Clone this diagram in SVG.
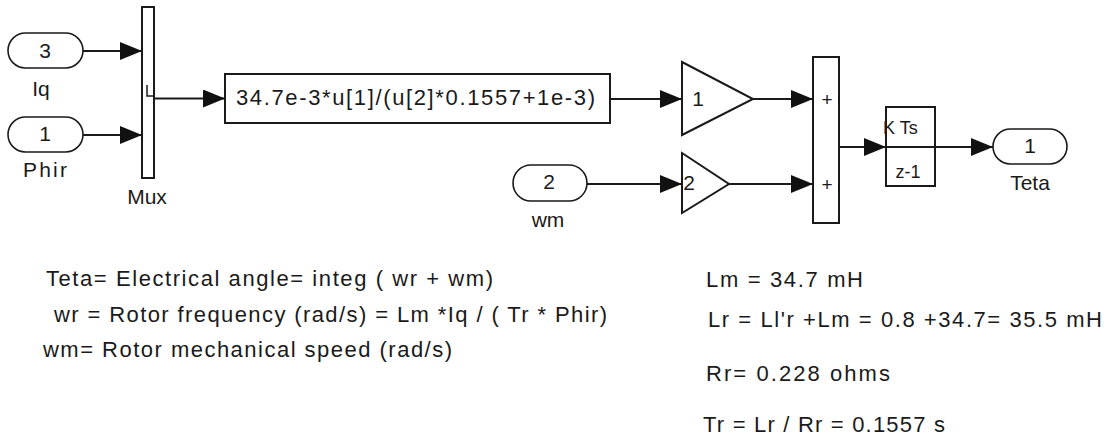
<svg xmlns="http://www.w3.org/2000/svg" width="1110" height="448" viewBox="0 0 1110 448">
<style>
text{font-family:"Liberation Sans",Arial,sans-serif;fill:#1a1a1a;}
.t{font-size:22px;}
.lbl{font-size:21px;text-anchor:middle;}
.num{font-size:21px;text-anchor:middle;}
.blk{fill:#fff;stroke:#1a1a1a;stroke-width:2;}
.port{fill:#fff;stroke:#1a1a1a;stroke-width:1.6;}
.wire{fill:none;stroke:#1a1a1a;stroke-width:2;marker-end:url(#arr);}
</style>
<defs>
<marker id="arr" markerUnits="userSpaceOnUse" markerWidth="22" markerHeight="18" refX="22" refY="9" orient="auto">
<path d="M0,0 L22,9 L0,18 Z" fill="#111"/>
</marker>
</defs>
<rect width="1110" height="448" fill="#fff"/>

<g id="connectors">
<line class="wire" x1="83" y1="51" x2="142" y2="51"/>
<line class="wire" x1="83" y1="135" x2="142" y2="135"/>
<line class="wire" x1="154" y1="98.5" x2="225" y2="98.5"/>
<line class="wire" x1="610" y1="99" x2="682" y2="99"/>
<line class="wire" x1="753" y1="99" x2="813" y2="99"/>
<line class="wire" x1="587" y1="184" x2="682" y2="184"/>
<line class="wire" x1="729" y1="184" x2="813" y2="184"/>
<line class="wire" x1="839" y1="147" x2="886" y2="147"/>
<line class="wire" x1="935" y1="147" x2="993" y2="147"/>
</g>

<g id="inport3">
<rect class="port" x="8" y="33" width="75" height="35" rx="17.5"/>
<text class="num" x="45" y="58">3</text>
<text class="lbl" x="41" y="96">Iq</text>
</g>

<g id="inport1">
<rect class="port" x="8" y="117" width="75" height="35" rx="17.5"/>
<text class="num" x="45" y="141">1</text>
<text class="lbl" x="45" y="177" textLength="44" lengthAdjust="spacing">Phir</text>
</g>

<g id="mux">
<rect class="blk" x="142" y="7" width="12" height="171"/>
<path d="M147,85 V96 H154" fill="none" stroke="#1a1a1a" stroke-width="1.5"/>
<text class="lbl" x="147" y="204">Mux</text>
</g>

<g id="fcn">
<rect class="blk" x="225" y="74" width="385" height="49"/>
<text x="236" y="105" font-size="22" textLength="359" lengthAdjust="spacing">34.7e-3*u[1]/(u[2]*0.1557+1e-3)</text>
</g>

<g id="gain1">
<polygon class="blk" points="682,62 753,99 682,135" stroke-width="1.6"/>
<text class="num" x="698" y="106">1</text>
</g>

<g id="inport2">
<rect class="port" x="513" y="165" width="74" height="36" rx="18"/>
<text class="num" x="549" y="189">2</text>
<text class="lbl" x="548" y="227">wm</text>
</g>

<g id="gain2">
<polygon class="blk" points="682,153 729,184 682,213" stroke-width="1.6"/>
<text class="num" x="689" y="190">2</text>
</g>

<g id="sum">
<rect class="blk" x="813" y="57" width="26" height="166"/>
<text x="827" y="106" font-size="19" text-anchor="middle">+</text>
<text x="827" y="191" font-size="19" text-anchor="middle">+</text>
</g>

<g id="integrator">
<rect class="blk" x="886" y="107" width="49" height="79"/>
<line x1="886" y1="147" x2="935" y2="147" stroke="#1a1a1a" stroke-width="2"/>
<text x="883" y="134" font-size="18">K Ts</text>
<text x="908" y="178" font-size="18" text-anchor="middle">z-1</text>
</g>

<g id="outport1">
<rect class="port" x="993" y="129" width="74" height="35" rx="17.5"/>
<text class="num" x="1030" y="153">1</text>
<text class="lbl" x="1030" y="190">Teta</text>
</g>

<g id="notes-left">
<text class="t" x="46" y="286" textLength="447" lengthAdjust="spacing">Teta= Electrical angle= integ ( wr + wm)</text>
<text class="t" x="54" y="322" textLength="553" lengthAdjust="spacing">wr = Rotor frequency (rad/s) = Lm *Iq / ( Tr  * Phir)</text>
<text class="t" x="43" y="357" textLength="409" lengthAdjust="spacing">wm= Rotor mechanical speed (rad/s)</text>
</g>

<g id="notes-right">
<text class="t" x="706" y="287" textLength="157" lengthAdjust="spacing">Lm = 34.7 mH</text>
<text class="t" x="708" y="327" textLength="394" lengthAdjust="spacing">Lr = Ll'r +Lm = 0.8 +34.7= 35.5 mH</text>
<text class="t" x="706" y="381" textLength="184" lengthAdjust="spacing">Rr=  0.228 ohms</text>
<text class="t" x="703" y="432" textLength="242" lengthAdjust="spacing">Tr = Lr / Rr = 0.1557 s</text>
</g>
</svg>
